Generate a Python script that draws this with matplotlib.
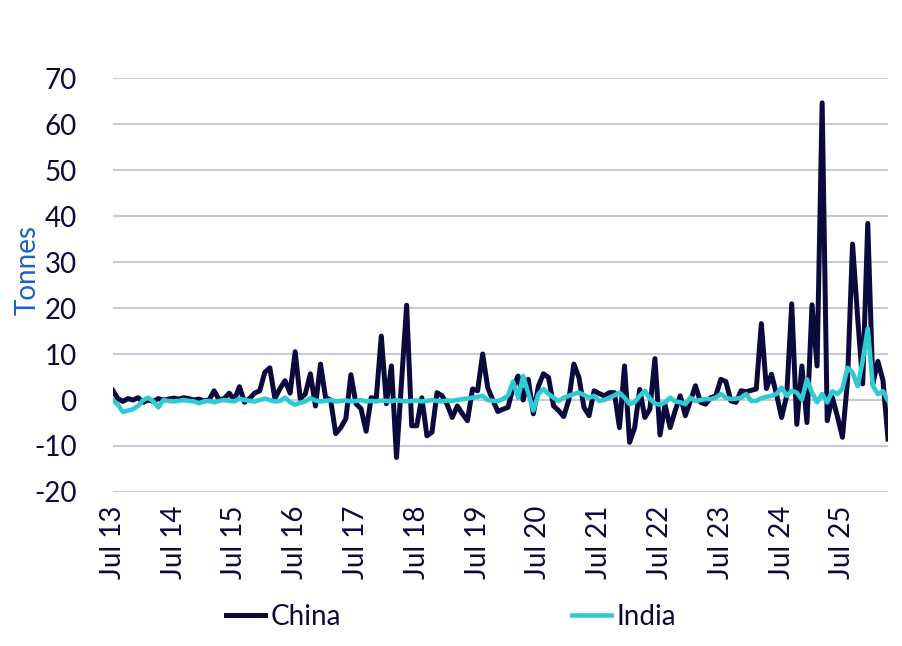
import matplotlib
matplotlib.use('Agg')

import numpy as np
import matplotlib.pyplot as plt

# monthly change, Jul 2013 onwards (tonnes)
china = [2.1, 0.3, -0.3, 0.3, 0.0, 0.5, -0.5, 0.0, -0.3, 0.3,
         0.0, 0.2, 0.4, 0.2, 0.5, 0.3, 0.0, 0.2, -0.2, 0.0,
         2.0, 0.0, 0.3, 1.5, 0.0, 2.9, -0.5, 0.3, 1.5, 2.0,
         6.0, 7.0, 0.3, 2.5, 4.2, 1.5, 10.5, 0.3, 1.3, 5.7,
         -1.3, 7.8, 0.5, 0.0, -7.3, -6.0, -4.1, 5.5, -0.8, -1.9,
         -6.8, 0.5, 0.3, 13.9, -0.8, 7.4, -12.5, 4.0, 20.6, -5.6,
         -5.6, 0.5, -7.8, -7.0, 1.6, 0.9, -1.0, -3.8, -1.3, -3.0,
         -4.5, 2.4, 2.0, 10.0, 2.7, 0.0, -2.5, -2.0, -1.6, 2.7,
         5.2, 0.0, 4.5, -3.0, 3.0, 5.7, 4.9, -1.3, -2.3, -3.6,
         0.0, 7.8, 4.9, -1.6, -3.4, 2.0, 1.4, 0.9, 1.6, 1.6,
         -6.0, 7.4, -9.2, -6.0, 2.3, -3.8, -2.0, 9.0, -7.6, -1.0,
         -6.0, -2.3, 0.9, -3.4, -0.2, 3.1, -0.5, -0.9, 0.5, 0.9,
         4.5, 4.0, -0.2, -0.5, 2.0, 1.8, 2.1, 2.4, 16.6, 2.5,
         5.6, 1.2, -3.8, 0.9, 20.9, -5.3, 7.4, -4.9, 20.7, 7.4,
         64.6, -4.5, 0.6, -3.5, -8.1, 4.0, 33.9, 18.0, 3.5, 38.4,
         3.5, 8.4, 4.3, -8.5]

india = [0.0, -1.0, -2.6, -2.3, -2.0, -1.3, 0.0, 0.5, -0.3, -1.6,
         0.0, -0.2, -0.3, -0.2, 0.0, -0.2, -0.3, -0.7, -0.3, -0.2,
         -0.5, -0.2, 0.0, -0.2, -0.3, 0.3, 0.0, -0.2, -0.3, 0.0,
         0.3, 0.0, -0.3, -0.2, 0.5, -0.5, -1.0, -0.6, -0.3, 0.4,
         -0.1, -0.3, -0.2, 0.0, -0.3, -0.2, -0.1, -0.3, -0.2, 0.0,
         -0.3, -0.2, -0.3, -0.1, -0.2, -0.3, 0.0, -0.2, -0.3, -0.2,
         -0.1, -0.3, -0.2, 0.0, -0.2, -0.3, -0.1, -0.2, 0.0, 0.2,
         0.3, 0.5, 0.7, 0.9, 0.0, -0.2, -0.2, 0.2, 1.0, 4.0,
         0.5, 5.2, 1.5, -2.3, 1.3, 2.4, 1.3, 0.5, -0.2, 0.5,
         0.9, 1.3, 1.6, 1.1, 0.5, 0.9, -0.2, 0.0, 0.5, 1.0,
         1.6, 0.5, -0.9, -0.5, 0.9, 2.0, 0.3, -0.8, -1.0, -0.5,
         0.5, -0.3, -0.5, -0.9, 0.5, -0.2, 0.0, 0.2, 0.2, 0.5,
         1.3, 0.5, 0.2, 0.3, 0.5, 1.3, -0.2, -0.2, 0.4, 0.7,
         0.9, 1.3, 2.7, 0.9, 2.0, 1.6, 0.1, 4.5, 1.6, -0.5,
         1.3, -0.5, 1.9, 1.3, 2.4, 7.0, 6.0, 3.0, 8.5, 15.5,
         3.1, 1.3, 1.9, -0.1]

tick_labels = ['Jul 13', 'Jul 14', 'Jul 15', 'Jul 16', 'Jul 17', 'Jul 18', 'Jul 19',
               'Jul 20', 'Jul 21', 'Jul 22', 'Jul 23', 'Jul 24', 'Jul 25']
y_ticks = [-20, -10, 0, 10, 20, 30, 40, 50, 60, 70]

navy = '#0b0a3c'
teal = '#2ecbd3'
grid_col = '#c3ccd7'

plt.rcParams['font.family'] = ['Lato', 'DejaVu Sans']
plt.rcParams['font.size'] = 20
plt.rcParams['axes.unicode_minus'] = False

x = np.arange(len(china))

fig = plt.figure(figsize=(9.02, 6.46), dpi=100)
ax = fig.add_axes([0.125, 0.2384, 0.8595, 0.6408])

for y in y_ticks:
    ax.axhline(y, color=grid_col, lw=1.5, zorder=1)

ax.plot(x, china, color=navy, lw=3.6, label='China', zorder=3)
ax.plot(x[:len(india)], india, color=teal, lw=3.3, label='India', zorder=4)

ax.set_xlim(0, len(china) - 1)
ax.set_ylim(-20, 70)
ax.set_yticks(y_ticks)
ax.set_xticks(np.arange(0, len(china), 12))
ax.set_xticklabels(tick_labels, rotation=90)
ax.tick_params(axis='both', length=0, colors=navy, labelsize=20)
ax.tick_params(axis='y', pad=26)
ax.tick_params(axis='x', pad=10)
for s in ax.spines.values():
    s.set_visible(False)

fig.text(28/902, 1 - 270/646, 'Tonnes', rotation=90, color='#1f5fc6',
         fontsize=20, ha='center', va='center')

fig.legend(loc='center', bbox_to_anchor=(0.5, 1 - 617/646), ncol=2, frameon=False,
           handlelength=1.4, handletextpad=0.2, columnspacing=8.3,
           labelcolor=navy)

plt.savefig('out.png', dpi=100)
